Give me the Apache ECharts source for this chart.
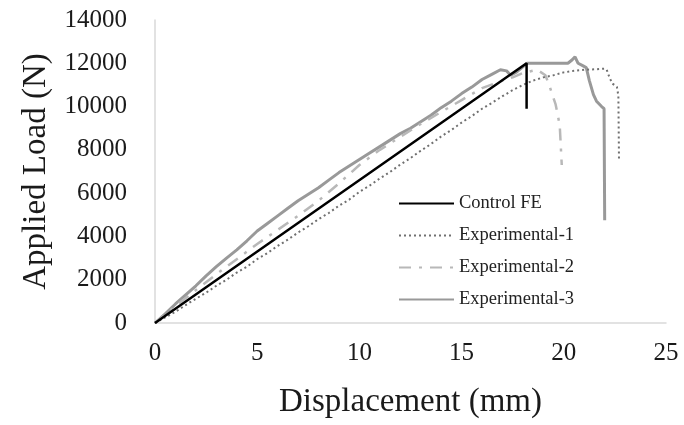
<!DOCTYPE html>
<html>
<head>
<meta charset="utf-8">
<script src="https://cdn.jsdelivr.net/npm/echarts@6/dist/echarts.min.js"></script>
<style>
html,body{margin:0;padding:0;background:#fff;}
#chart{width:684px;height:425px;}
</style>
</head>
<body>
<div id="chart"></div>
<script>
// Displacement (mm), Applied Load (N)
const controlFE = [[0,0],[18.18,12000],[18.18,9900]];
const experimental1 = [[0,0],[1,520],[1.5,830],[2,1120],[2.5,1400],[3,1720],[3.5,2000],[4,2330],[4.5,2600],[5,2950],[5.5,3230],[6,3560],[6.5,3850],[7,4180],[7.5,4470],[8,4800],[8.5,5080],[9,5420],[9.5,5700],[10,6060],[10.5,6350],[11,6680],[11.5,6980],[12,7320],[12.5,7620],[13,7960],[13.5,8270],[14,8620],[14.5,8920],[15,9260],[15.5,9560],[16,9900],[16.5,10180],[17,10480],[17.5,10760],[18,11000],[18.5,11200],[19,11350],[19.5,11450],[20,11580],[20.5,11650],[21,11700],[21.5,11720],[22,11750],[22.1,11700],[22.25,11300],[22.4,11050],[22.6,10900],[22.67,10500],[22.7,7550]];
const experimental2 = [[0,0],[1,780],[2,1520],[3,2250],[4,2950],[5,3650],[6,4300],[7,4950],[8,5650],[9,6450],[10,7300],[11,8000],[12,8600],[13,9200],[14,9750],[15,10300],[16,10850],[17,11200],[17.5,11350],[18,11550],[18.7,11700],[19.1,11450],[19.3,10950],[19.6,10100],[19.8,9150],[19.9,7300]];
const experimental3 = [[0,0],[0.5,420],[1,880],[1.5,1300],[2,1720],[2.5,2180],[3,2600],[3.5,3000],[4,3380],[4.5,3800],[5,4250],[5.5,4600],[6,4950],[6.5,5300],[7,5650],[7.5,5950],[8,6250],[8.5,6600],[9,6950],[9.5,7250],[10,7550],[10.5,7850],[11,8150],[11.5,8450],[12,8750],[12.5,9000],[13,9300],[13.5,9600],[14,9950],[14.5,10250],[15,10600],[15.5,10900],[16,11250],[16.5,11500],[16.9,11700],[17.2,11650],[17.4,11450],[17.7,11600],[18.2,12000],[20.2,12000],[20.4,12150],[20.55,12300],[20.7,12000],[20.9,11900],[21.1,11800],[21.25,11200],[21.45,10550],[21.6,10250],[21.85,10000],[21.97,9900],[22.0,4750]];
const seriesNames = ['Control FE','Experimental-1','Experimental-2','Experimental-3'];
const xTitle = 'Displacement (mm)';
const yTitle = 'Applied Load (N)';

const FONT = '"Liberation Serif","Times New Roman",serif';
const chart = echarts.init(document.getElementById('chart'), null, {renderer:'canvas'});
chart.setOption({
  animation:false,
  backgroundColor:'#fff',
  grid:{left:155,right:18,top:20,bottom:102,containLabel:false},
  legend:{
    orient:'vertical',left:393,top:189,
    itemWidth:55,itemHeight:14,itemGap:13,
    data:seriesNames,
    itemStyle:{opacity:0},
    textStyle:{fontFamily:FONT,fontSize:18.5,color:'#222'}
  },
  xAxis:{
    type:'value',min:0,max:25,interval:5,
    name:xTitle,nameLocation:'middle',nameGap:63,
    nameTextStyle:{fontFamily:FONT,fontSize:33,color:'#1a1a1a'},
    axisLine:{show:true,lineStyle:{color:'#d9d9d9',width:1.5}},
    axisTick:{show:false},
    splitLine:{show:false},
    axisLabel:{fontFamily:FONT,fontSize:25,color:'#1a1a1a',margin:18}
  },
  yAxis:{
    type:'value',min:0,max:14000,interval:2000,
    name:yTitle,nameLocation:'middle',nameGap:102,
    nameTextStyle:{fontFamily:FONT,fontSize:33,color:'#1a1a1a'},
    axisLine:{show:true,lineStyle:{color:'#d9d9d9',width:1.5}},
    axisTick:{show:false},
    splitLine:{show:false},
    axisLabel:{fontFamily:FONT,fontSize:25,color:'#1a1a1a',margin:28,formatter:function(v){return String(v);}}
  },
  series:[
    {name:seriesNames[3],type:'line',data:experimental3,symbol:'none',z:2,
     lineStyle:{color:'#999999',width:3,type:'solid'},itemStyle:{color:'#999999'}},
    {name:seriesNames[2],type:'line',data:experimental2,symbol:'none',z:3,
     lineStyle:{color:'#b8b8b8',width:2.5,type:[12,8,3,8]},itemStyle:{color:'#b8b8b8'}},
    {name:seriesNames[1],type:'line',data:experimental1,symbol:'none',z:4,
     lineStyle:{color:'#707070',width:2,type:[2,3]},itemStyle:{color:'#707070'}},
    {name:seriesNames[0],type:'line',data:controlFE,symbol:'none',z:5,
     lineStyle:{color:'#000000',width:2.5,type:'solid'},itemStyle:{color:'#000000'}}
  ]
});
</script>
</body>
</html>
